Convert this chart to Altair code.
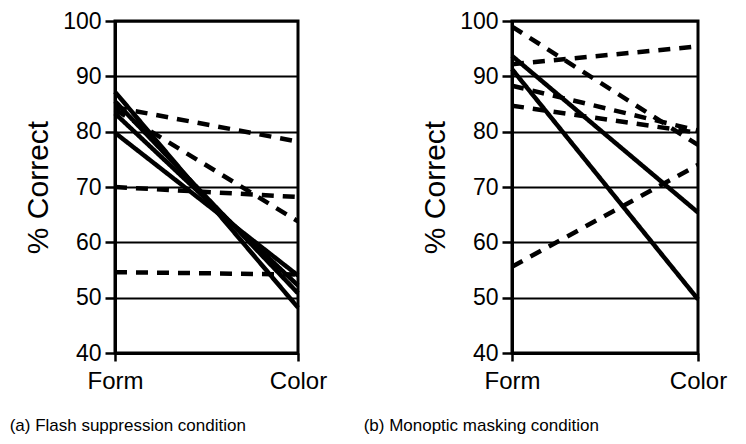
import altair as alt
import pandas as pd

conditions = ["Form", "Color"]

# Panel (a): Flash suppression condition
a_form = [87.2, 85.5, 83.3, 79.8, 84.4, 84.0, 70.0, 54.6]
a_color = [48.2, 50.8, 52.2, 54.0, 78.2, 63.8, 68.2, 54.2]
a_style = ["solid", "solid", "solid", "solid", "dashed", "dashed", "dashed", "dashed"]

# Panel (b): Monoptic masking condition
b_form = [93.7, 91.3, 99.0, 92.2, 88.3, 84.7, 55.6]
b_color = [65.4, 49.7, 77.6, 95.4, 80.2, 79.8, 74.0]
b_style = ["solid", "solid", "dashed", "dashed", "dashed", "dashed", "dashed"]

y_ticks = [40, 50, 60, 70, 80, 90, 100]


def long_df(form, color, style):
    rows = []
    for i, (f, c, s) in enumerate(zip(form, color, style)):
        rows.append({"id": i, "cond": conditions[0], "val": f, "style": s})
        rows.append({"id": i, "cond": conditions[1], "val": c, "style": s})
    return pd.DataFrame(rows)


def panel(df, caption, width, dx):
    return alt.Chart(df).mark_line(color="black", strokeWidth=4.5).encode(
        x=alt.X("cond:N", sort=conditions,
                scale=alt.Scale(type="point", domain=conditions, padding=0),
                axis=alt.Axis(title=None, labelAngle=0, grid=False,
                              labelFontSize=24, labelPadding=8, tickSize=8)),
        y=alt.Y("val:Q", scale=alt.Scale(domain=[40, 100], nice=False, zero=False),
                axis=alt.Axis(title="% Correct", values=y_ticks, grid=True,
                              labelFontSize=23, labelPadding=4, tickSize=10,
                              titleFontSize=30, titleFontWeight="normal",
                              titlePadding=9)),
        detail="id:N",
        strokeDash=alt.StrokeDash("style:N",
                                  scale=alt.Scale(domain=["solid", "dashed"],
                                                  range=[[1, 0], [12, 9]]),
                                  legend=None),
    ).properties(
        width=width, height=332,
        title=alt.TitleParams(caption, orient="bottom", anchor="start",
                              fontSize=17, fontWeight="normal",
                              font="Liberation Sans",
                              color="black", offset=25, dx=dx),
    )


left = panel(long_df(a_form, a_color, a_style), "(a) Flash suppression condition", 183, -14)
right = panel(long_df(b_form, b_color, b_style), "(b) Monoptic masking condition", 186, -57)

chart = alt.hconcat(left, right, spacing=33).properties(
    padding={"left": 0, "right": 0, "top": 0, "bottom": 0}
).configure(
    font="Liberation Sans"
).configure_view(stroke="black", strokeWidth=3).configure_axis(
    domainColor="black", domainWidth=3, tickColor="black", tickWidth=2.5,
    gridColor="black", gridWidth=2, gridOpacity=1,
    labelColor="black", titleColor="black",
    labelFont="Liberation Sans", titleFont="Liberation Sans",
)

chart.save("out.html", embed_options={"renderer": "svg", "actions": False})
